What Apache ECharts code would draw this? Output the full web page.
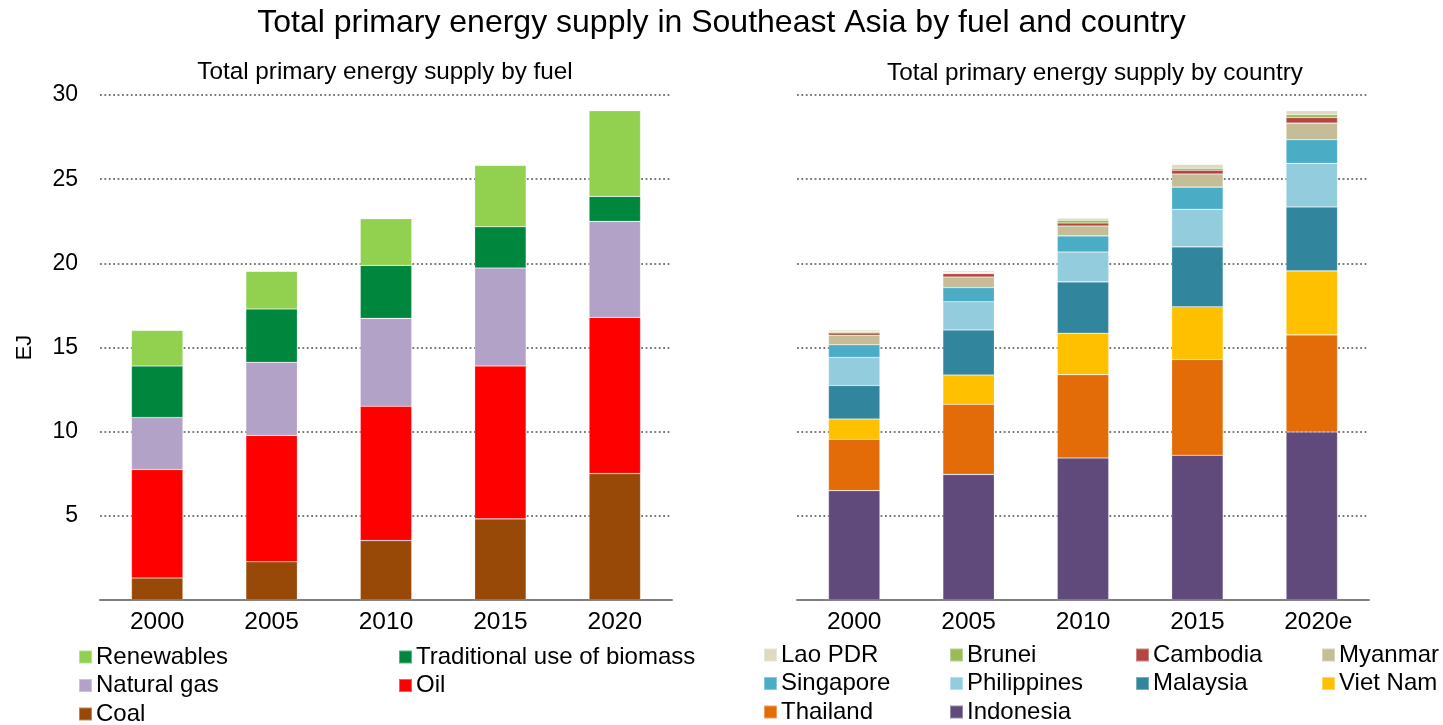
<!DOCTYPE html>
<html>
<head>
<meta charset="utf-8">
<script src="https://cdn.jsdelivr.net/npm/echarts@6/dist/echarts.min.js"></script>
<style>html,body{margin:0;padding:0;background:#fff}#c{width:1443px;height:725px}</style>
</head>
<body>
<div id="c"></div>
<script>
const years = ['2000','2005','2010','2015','2020'];
const yearsRight = ['2000','2005','2010','2015','2020e'];
const yTicks = [0,5,10,15,20,25,30];

// By fuel (EJ), bottom to top
const coal = [1.31, 2.27, 3.53, 4.82, 7.51];
const oil = [6.44, 7.51, 7.98, 9.08, 9.28];
const naturalGas = [3.09, 4.34, 5.22, 5.82, 5.70];
const tradBiomass = [3.06, 3.17, 3.15, 2.45, 1.49];
const renewables = [2.12, 2.23, 2.77, 3.65, 5.08];

// By country (EJ), bottom to top
const indonesia = [6.50, 7.46, 8.44, 8.60, 9.98];
const thailand = [3.05, 4.17, 4.95, 5.69, 5.77];
const vietNam = [1.20, 1.74, 2.46, 3.13, 3.80];
const malaysia = [1.99, 2.67, 3.05, 3.56, 3.80];
const philippines = [1.67, 1.68, 1.77, 2.23, 2.59];
const singapore = [0.75, 0.84, 0.96, 1.32, 1.40];
const myanmar = [0.57, 0.63, 0.59, 0.78, 0.99];
const cambodia = [0.14, 0.20, 0.18, 0.22, 0.33];
const brunei = [0.07, 0.06, 0.16, 0.12, 0.18];
const laoPDR = [0.10, 0.10, 0.12, 0.22, 0.22];

// Legend order (rows, left to right)
const fuelLegend = [['Renewables', 'Traditional use of biomass'], ['Natural gas', 'Oil'], ['Coal']];
const countryLegend = [['Lao PDR', 'Brunei', 'Cambodia', 'Myanmar'], ['Singapore', 'Philippines', 'Malaysia', 'Viet Nam'], ['Thailand', 'Indonesia']];

const fuelSeries = [
  ['Coal', coal, '#984807'],
  ['Oil', oil, '#FF0000'],
  ['Natural gas', naturalGas, '#B3A2C7'],
  ['Traditional use of biomass', tradBiomass, '#00873E'],
  ['Renewables', renewables, '#92D050']
];
const countrySeries = [
  ['Indonesia', indonesia, '#604A7B'],
  ['Thailand', thailand, '#E36C09'],
  ['Viet Nam', vietNam, '#FFC000'],
  ['Malaysia', malaysia, '#31859C'],
  ['Philippines', philippines, '#93CDDD'],
  ['Singapore', singapore, '#4BACC6'],
  ['Myanmar', myanmar, '#C4BD97'],
  ['Cambodia', cambodia, '#B3463F'],
  ['Brunei', brunei, '#9BBB59'],
  ['Lao PDR', laoPDR, '#DDD9C3']
];

const FONT = 'Liberation Sans, Arial, sans-serif';
const FS = 23;
const FSX = 24.5;
const FSL = 24;
const chart = echarts.init(document.getElementById('c'));

function xAxis(idx, data) {
  return {
    type: 'category', gridIndex: idx, data: data,
    axisLine: {show: true, lineStyle: {color: '#7F7F7F', width: 2}},
    axisTick: {show: false},
    axisLabel: {color: '#000', fontSize: FSX, fontFamily: FONT, margin: 10, interval: 0, hideOverlap: false,
      formatter: v => v.endsWith('e') ? '{pad|}' + v.slice(0, -1) + '{e|e}' : v,
      rich: {pad: {width: 13}, e: {fontSize: FSX, fontFamily: FONT, color: '#000'}}}
  };
}
function yAxis(idx, showLabels) {
  return {
    type: 'value', gridIndex: idx, min: yTicks[0], max: yTicks[yTicks.length-1], interval: 5,
    axisLine: {show: false}, axisTick: {show: false},
    axisLabel: {show: showLabels, color: '#000', fontSize: FS, fontFamily: FONT, margin: 22,
      formatter: v => v === 0 ? '' : String(v)},
    splitLine: {show: true, lineStyle: {color: '#7A7A7A', width: 1.8, type: [1.8, 2.6]}},
    name: showLabels ? 'EJ' : '', nameLocation: 'middle', nameRotate: 90, nameGap: 64,
    nameTextStyle: {color: '#000', fontSize: FS - 1, fontFamily: FONT}
  };
}

const series = [];
fuelSeries.forEach(([name, data, color]) => series.push({
  name, type: 'bar', stack: 'fuel', xAxisIndex: 0, yAxisIndex: 0, data,
  barWidth: '45%', itemStyle: {color, borderColor: 'rgba(255,255,255,0.35)', borderWidth: 0.6},
  emphasis: {disabled: true}
}));
countrySeries.forEach(([name, data, color]) => series.push({
  name, type: 'bar', stack: 'country', xAxisIndex: 1, yAxisIndex: 1, data,
  barWidth: '45%', itemStyle: {color, borderColor: 'rgba(255,255,255,0.35)', borderWidth: 0.6},
  emphasis: {disabled: true}
}));

function legendBlock(rows, x0, colStep, yCenter0, rowStep) {
  const out = [];
  rows.forEach((row, r) => row.forEach((name, c) => out.push({
    left: x0 + c * colStep, top: yCenter0 + r * rowStep - 12, data: [name],
    itemWidth: 13, itemHeight: 13, itemGap: 0, icon: 'rect', selectedMode: false, padding: 0,
    textStyle: {color: '#000', fontSize: FSL, fontFamily: FONT, padding: [0, 0, 0, -1], lineHeight: 24}
  })));
  return out;
}

chart.setOption({
  animation: false,
  title: [
    {text: 'Total primary energy supply in Southeast Asia by fuel and country', left: 'center', top: 2,
      textStyle: {color: '#000', fontSize: 32, fontWeight: 'normal', fontFamily: FONT}},
    {text: 'Total primary energy supply by fuel', left: 380, textAlign: 'center', top: 55,
      textStyle: {color: '#000', fontSize: 24.3, fontWeight: 'normal', fontFamily: FONT}},
    {text: 'Total primary energy supply by country', left: 1090, textAlign: 'center', top: 56,
      textStyle: {color: '#000', fontSize: 24.3, fontWeight: 'normal', fontFamily: FONT}}
  ],
  grid: [
    {left: 100, right: 771, top: 95, bottom: 125},
    {left: 797, right: 74, top: 95, bottom: 125}
  ],
  xAxis: [xAxis(0, years), xAxis(1, yearsRight)],
  yAxis: [yAxis(0, true), yAxis(1, false)],
  legend: [].concat(
    legendBlock(fuelLegend, 78, 320, 657, 28.5),
    legendBlock(countryLegend, 763, 186, 655, 28.5)
  ),
  series
});
</script>
</body>
</html>
